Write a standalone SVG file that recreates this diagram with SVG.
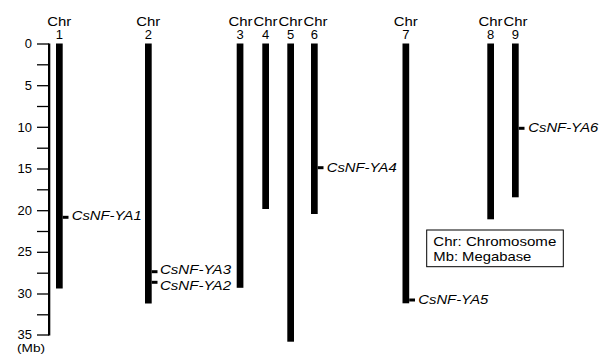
<svg xmlns="http://www.w3.org/2000/svg" width="600" height="355" viewBox="0 0 600 355">
<style>
text{font-family:"Liberation Sans",Arial,sans-serif;font-size:13px;fill:#000}
.c{text-anchor:middle}
.r{text-anchor:end}
.g{font-style:italic}
.chr{fill:#000}
.tick{stroke:#000;stroke-width:1.3}
.mk{stroke:#000;stroke-width:3}
</style>
<rect width="600" height="355" fill="#fff"/>
<g id="axis">
<rect x="48" y="43.5" width="2.3" height="292" fill="#000"/>
<g class="tick">
<line x1="37" y1="44" x2="49" y2="44"/>
<line x1="37" y1="64.8" x2="49" y2="64.8"/>
<line x1="37" y1="85.7" x2="49" y2="85.7"/>
<line x1="37" y1="106.5" x2="49" y2="106.5"/>
<line x1="37" y1="127.3" x2="49" y2="127.3"/>
<line x1="37" y1="148.2" x2="49" y2="148.2"/>
<line x1="37" y1="169" x2="49" y2="169"/>
<line x1="37" y1="189.8" x2="49" y2="189.8"/>
<line x1="37" y1="210.7" x2="49" y2="210.7"/>
<line x1="37" y1="231.5" x2="49" y2="231.5"/>
<line x1="37" y1="252.3" x2="49" y2="252.3"/>
<line x1="37" y1="273.2" x2="49" y2="273.2"/>
<line x1="37" y1="294" x2="49" y2="294"/>
<line x1="37" y1="314.8" x2="49" y2="314.8"/>
<line x1="37" y1="335" x2="49" y2="335"/>
</g>
<text class="r" x="32" y="48">0</text>
<text class="r" x="32" y="90">5</text>
<text class="r" x="32" y="132">10</text>
<text class="r" x="32" y="173">15</text>
<text class="r" x="32" y="215">20</text>
<text class="r" x="32" y="256">25</text>
<text class="r" x="32" y="298">30</text>
<text class="r" x="32" y="339">35</text>
<text x="17" y="352.3" style="font-size:11px" textLength="28" lengthAdjust="spacingAndGlyphs">(Mb)</text>
</g>
<g id="chr1"><text class="c" x="59.3" y="25.5" textLength="24" lengthAdjust="spacingAndGlyphs">Chr</text><text class="c" x="59.3" y="39.3">1</text><rect class="chr" x="56" y="43.5" width="6.7" height="245"/></g>
<g id="chr2"><text class="c" x="148.3" y="25.5" textLength="24" lengthAdjust="spacingAndGlyphs">Chr</text><text class="c" x="148.3" y="39.3">2</text><rect class="chr" x="145" y="43.5" width="6.7" height="260"/></g>
<g id="chr3"><text class="c" x="240.5" y="25.5" textLength="24" lengthAdjust="spacingAndGlyphs">Chr</text><text class="c" x="240" y="39.3">3</text><rect class="chr" x="236.7" y="43.5" width="6.7" height="244.3"/></g>
<g id="chr4"><text class="c" x="265.5" y="25.5" textLength="24" lengthAdjust="spacingAndGlyphs">Chr</text><text class="c" x="265.7" y="39.3">4</text><rect class="chr" x="262.3" y="43.5" width="6.7" height="165.5"/></g>
<g id="chr5"><text class="c" x="290.5" y="25.5" textLength="24" lengthAdjust="spacingAndGlyphs">Chr</text><text class="c" x="290.7" y="39.3">5</text><rect class="chr" x="287.3" y="43.5" width="6.7" height="298.2"/></g>
<g id="chr6"><text class="c" x="315.5" y="25.5" textLength="24" lengthAdjust="spacingAndGlyphs">Chr</text><text class="c" x="314.3" y="39.3">6</text><rect class="chr" x="311" y="43.5" width="6.7" height="170.5"/></g>
<g id="chr7"><text class="c" x="405.8" y="25.5" textLength="24" lengthAdjust="spacingAndGlyphs">Chr</text><text class="c" x="405.8" y="39.3">7</text><rect class="chr" x="402.5" y="43.5" width="6.7" height="259.8"/></g>
<g id="chr8"><text class="c" x="490.5" y="25.5" textLength="24" lengthAdjust="spacingAndGlyphs">Chr</text><text class="c" x="490.7" y="39.3">8</text><rect class="chr" x="487.3" y="43.5" width="6.7" height="175.8"/></g>
<g id="chr9"><text class="c" x="515.5" y="25.5" textLength="24" lengthAdjust="spacingAndGlyphs">Chr</text><text class="c" x="515.3" y="39.3">9</text><rect class="chr" x="512" y="43.5" width="6.7" height="153.8"/></g>
<g id="connectors">
<line class="mk" x1="62.7" y1="217.3" x2="68.5" y2="217.3"/>
<line class="mk" x1="151.7" y1="271.7" x2="157.5" y2="271.7"/>
<line class="mk" x1="151.7" y1="282.3" x2="157.5" y2="282.3"/>
<line class="mk" x1="317.7" y1="167.7" x2="323.5" y2="167.7"/>
<line class="mk" x1="409.2" y1="300" x2="415" y2="300"/>
<line class="mk" x1="518.7" y1="128.3" x2="524.5" y2="128.3"/>
</g>
<g id="genes">
<text class="g" x="71.7" y="220.3" textLength="70" lengthAdjust="spacingAndGlyphs">CsNF-YA1</text>
<text class="g" x="160" y="273.5" textLength="71" lengthAdjust="spacingAndGlyphs">CsNF-YA3</text>
<text class="g" x="160" y="289.5" textLength="71" lengthAdjust="spacingAndGlyphs">CsNF-YA2</text>
<text class="g" x="326.7" y="171.7" textLength="70" lengthAdjust="spacingAndGlyphs">CsNF-YA4</text>
<text class="g" x="418.3" y="303.5" textLength="70" lengthAdjust="spacingAndGlyphs">CsNF-YA5</text>
<text class="g" x="528.3" y="132.3" textLength="70" lengthAdjust="spacingAndGlyphs">CsNF-YA6</text>
</g>
<g id="legend">
<rect x="426.7" y="230" width="136.6" height="36.7" fill="#fff" stroke="#000" stroke-width="1"/>
<text x="433.3" y="245.5" textLength="123" lengthAdjust="spacingAndGlyphs">Chr: Chromosome</text>
<text x="433.3" y="260.5" textLength="98" lengthAdjust="spacingAndGlyphs">Mb: Megabase</text>
</g>
</svg>
